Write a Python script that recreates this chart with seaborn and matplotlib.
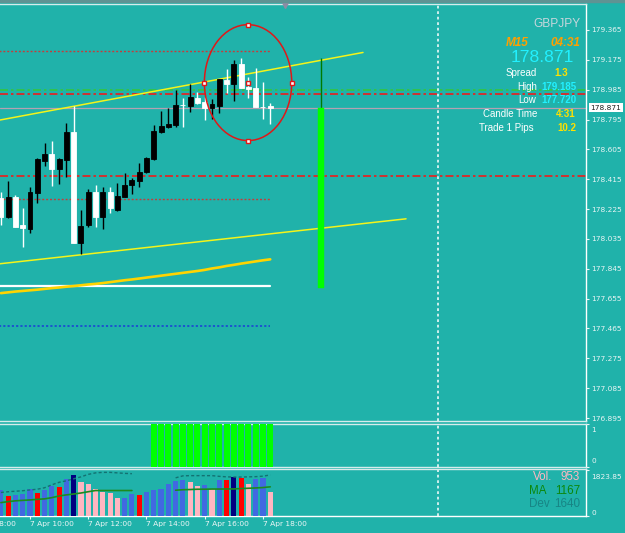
import matplotlib
matplotlib.use("Agg")
import numpy as np
import pandas as pd
import matplotlib.pyplot as plt
import matplotlib.transforms as mtrans
from matplotlib.patches import Ellipse, Rectangle
import seaborn as sns

# ---------------- data (GBPJPY, M15, 7 Apr 09:00 .. 18:15) ----------------
opens = [178.294, 178.173, 178.304, 178.124, 178.098, 178.329, 178.533, 178.576, 178.478, 178.537,
         178.716, 178.011, 178.124, 178.334, 178.173, 178.334, 178.219, 178.304, 178.380, 178.406,
         178.463, 178.542, 178.714, 178.748, 178.760, 178.888, 178.881, 178.932, 178.909, 178.870,
         178.881, 179.047, 179.021, 179.149, 179.000, 178.996, 178.877, 178.881]
highs = [178.336, 178.404, 178.315, 178.234, 178.368, 178.548, 178.644, 178.658, 178.548, 178.771,
         178.883, 178.219, 178.351, 178.376, 178.368, 178.364, 178.389, 178.453, 178.421, 178.516,
         178.558, 178.760, 178.849, 178.867, 178.983, 178.930, 179.019, 178.968, 178.940, 178.926,
         179.053, 179.117, 179.174, 179.185, 179.068, 179.123, 179.034, 178.902]
lows = [178.124, 178.170, 178.110, 177.986, 178.075, 178.262, 178.499, 178.374, 178.387, 178.427,
        178.008, 177.939, 178.113, 178.113, 178.096, 178.202, 178.215, 178.300, 178.321, 178.364,
        178.457, 178.537, 178.707, 178.743, 178.749, 178.749, 178.841, 178.892, 178.792, 178.798,
        178.839, 178.962, 178.915, 178.993, 178.934, 178.874, 178.797, 178.767]
closes = [178.177, 178.304, 178.113, 178.103, 178.336, 178.542, 178.576, 178.478, 178.542, 178.716,
          178.011, 178.119, 178.334, 178.173, 178.334, 178.230, 178.310, 178.378, 178.410, 178.463,
          178.552, 178.720, 178.754, 178.767, 178.888, 178.885, 178.939, 178.898, 178.870, 178.894,
          179.051, 179.021, 179.149, 178.996, 178.991, 178.877, 178.876, 178.871]
price_ma = [177.690, 177.695, 177.700, 177.704, 177.708, 177.712, 177.717, 177.722, 177.726, 177.731,
            177.735, 177.740, 177.745, 177.749, 177.754, 177.760, 177.766, 177.772, 177.777, 177.783,
            177.789, 177.795, 177.801, 177.807, 177.813, 177.819, 177.825, 177.831, 177.838, 177.847,
            177.854, 177.863, 177.870, 177.878, 177.885, 177.892, 177.899, 177.905]

volumes = [1031, 805, 833, 872, 1097, 925, 1031, 1190, 1163, 1467, 1626, 1348, 1269, 1071, 952,
           912, 727, 740, 872, 846, 952, 1031, 1071, 1269, 1388, 1428, 1348, 1190, 1229, 1071,
           1428, 1428, 1560, 1520, 1269, 1493, 1520, 953]
volume_class = list("BRBBBRBBRBNPPPPPPBBRBBBBBBPPBPBRNRPBBP")
nan = np.nan
volume_ma = [535, 575, 607, 626, 642, 666, 686, 734, 801, 845, 880, 920, 971, 1019, 1019, 1019,
             1019, 1019, 1019, nan, nan, nan, nan, nan, 1031, 1051, 1059, 1071, 1071, 1078, 1078,
             1082, 1082, 1098, 1110, 1122, 1138, 1167]
volume_dev = [940, 971, 991, 1011, 1043, 1071, 1130, 1249, 1348, 1408, 1487, 1566, 1665, 1725, 1745,
              1745, 1725, 1705, 1693, nan, nan, nan, nan, nan, 1527, 1606, 1614, 1614, 1614, 1614,
              1586, 1566, 1558, 1558, 1566, 1574, 1594, 1640]
signal = [0] * 21 + [1] * 17

price_ticks = [179.365, 179.175, 178.985, 178.795, 178.605, 178.415, 178.225, 178.035,
               177.845, 177.655, 177.465, 177.275, 177.085, 176.895]
time_tick_bars = [-4, 4, 12, 20, 28, 36]
time_tick_labels = ["7 Apr 08:00", "7 Apr 10:00", "7 Apr 12:00", "7 Apr 14:00",
                    "7 Apr 16:00", "7 Apr 18:00"]

bid = 178.871
day_high = 179.185
day_low = 177.720
day_bar = 44
dotted_levels = [179.231, 178.291]
red_levels = [178.956, 178.434]
green_level = 178.985
white_level = 177.735
blue_level = 177.483
trend_upper = ([-0.12, 49.74], [178.792, 179.222])
trend_lower = ([-0.12, 55.65], [177.877, 178.163])
ellipse_center = (33.95, 179.030)
ellipse_size = (12.0, 0.738)
day_separator = 60
vol_top = 1823.85

symbol = "GBPJPY"
timeframe = "M15"
countdown = "04:31"
spread = "1.3"
candle_time = "4:31"
trade_pips = "10.2"
vol_ma_last = 1167
vol_dev_last = 1640

# ---------------- style ----------------
BG = "#20b2aa"
sns.set_style("dark", rc={"axes.facecolor": BG, "figure.facecolor": BG})
plt.rcParams['font.family'] = ['DejaVu Sans']

W, H, DPI = 625, 533, 100
fig = plt.figure(figsize=(W / DPI, H / DPI), dpi=DPI, facecolor=BG)
AXR = 586
X0, X1 = -0.121, 80.37

def add_px_axes(top, bottom):
    a = fig.add_axes([0, 1 - bottom / H, AXR / W, (bottom - top) / H])
    a.set_facecolor(BG)
    a.set_xlim(X0, X1)
    a.grid(False)
    a.spines["left"].set_visible(False)
    for s in ["top", "bottom"]:
        a.spines[s].set_color("#d6ecec")
        a.spines[s].set_linewidth(1.0)
    a.spines["right"].set_color("white")
    a.spines["right"].set_linewidth(1.0)
    a.yaxis.tick_right()
    a.tick_params(axis="y", colors="#e8f4f4", labelsize=5.3, length=2.2, width=0.8,
                  pad=1.4, direction="out", right=True, left=False)
    a.set_xticks([])
    return a

def shift_label(lbl, dy_px):
    lbl.set_transform(lbl.get_transform() +
                      mtrans.ScaledTranslation(0, -dy_px / DPI, fig.dpi_scale_trans))

def ftext(x, y, s, **kw):
    fig.text(x / W, 1 - y / H, s, **kw)

bars = np.arange(len(opens))
o = np.array(opens); c = np.array(closes)
bull = c > o
cols = np.where(bull, "black", "white")

# ---------------- main price panel ----------------
ax = add_px_axes(4, 421)
ax.set_ylim(176.8760, 179.5305)
ax.set_yticks(price_ticks)
ax.set_yticklabels([f"{t:.3f}" for t in price_ticks])

ax.axvline(day_separator, color="white", lw=1.1, dashes=(1.8, 1.8), zorder=1)

for lv in red_levels:
    ax.axhline(lv, color="#ff1010", lw=1.1, dashes=(5.2, 2.0, 1.6, 2.0), zorder=2)
ax.axhline(green_level, color="#35c835", lw=1.1, dashes=(5.2, 2.0, 1.6, 2.0), zorder=2)
ax.axhline(bid, color="#b4a2b2", lw=0.9, zorder=2)
for lv in dotted_levels:
    ax.plot([X0 - 5, bars[-1]], [lv, lv], color="#c83a3a", lw=1.0, dashes=(1.4, 1.4), zorder=2)
ax.plot([X0 - 5, bars[-1]], [blue_level, blue_level], color="#1a3ad8", lw=1.1,
        dashes=(1.4, 1.4), zorder=2)
ax.plot([X0 - 5, bars[-1]], [white_level, white_level], color="white", lw=1.6, zorder=2)

ax.plot(*trend_upper, color="#f4f41a", lw=1.1, zorder=3)
ax.plot(*trend_lower, color="#f4f41a", lw=1.1, zorder=3)
sns.lineplot(x=bars, y=price_ma, ax=ax, color="#ffd400", lw=1.9, estimator=None,
             sort=False, legend=False, zorder=3)

# daily range bar
ax.vlines(day_bar, bid, day_high, color="#007a00", lw=1.0, zorder=3)
ax.bar(day_bar, bid - day_low, bottom=day_low, width=0.82, color="#00ff00",
       edgecolor="#00ff00", lw=0.3, zorder=3)

# candles
ax.vlines(bars, lows, highs, colors=cols, lw=1.0, zorder=4)
ax.bar(bars, np.abs(c - o), bottom=np.minimum(o, c), width=0.68, color=cols,
       edgecolor=cols, lw=0.6, zorder=5)

# ellipse
cx, cy = ellipse_center
ew, eh = ellipse_size
ax.add_patch(Ellipse((cx, cy), ew, eh, fill=False, ec="#e01818", lw=1.1, zorder=6))
ax.plot([cx, cx, cx - ew / 2, cx + ew / 2, cx], [cy + eh / 2, cy - eh / 2, cy, cy, cy],
        ls="none", marker="s", ms=3.4, mfc="white", mec="#e01818", mew=1.0, zorder=7)

# chart shift marker
ax.plot([285 / AXR], [0.998], transform=ax.transAxes, marker="v", ms=5, color="#8c8ca4",
        clip_on=False, zorder=8)

# bid label on axis
ax.annotate(f"{bid:.3f}", xy=(1.0, bid), xycoords=mtrans.blended_transform_factory(ax.transAxes, ax.transData),
            xytext=(3.2, 0), textcoords="offset points", ha="left", va="center", fontsize=5.3,
            color="#202020", bbox=dict(boxstyle="square,pad=0.18", fc="white", ec="none"),
            annotation_clip=False, zorder=9)

# ---------------- signal panel ----------------
ax2 = add_px_axes(424, 467)
ax2.set_ylim(0, 1)
ax2.bar(bars, signal, width=0.82, color="#00ff00", edgecolor="none", zorder=3)
ax2.axvline(day_separator, color="white", lw=1.1, dashes=(1.8, 1.8), zorder=1)
ax2.set_yticks([0, 1])
ax2.set_yticklabels(["0", "1"])
lbls = ax2.get_yticklabels()
lbls[0].set_va("bottom"); lbls[1].set_va("top")
shift_label(lbls[0], -3)
shift_label(lbls[1], 3)

# ---------------- volume panel ----------------
ax3 = add_px_axes(469, 516)
ax3.set_ylim(0, 1880)
palette = {"B": "#4169e1", "R": "#ff0000", "P": "#ffb6c1", "N": "#000080"}
ax3.bar(bars, volumes, width=0.7, color=[palette[k] for k in volume_class],
        edgecolor="none", zorder=3)
ax3.plot(bars, volume_ma, color="#1e8a1e", lw=1.2, zorder=4)
ax3.plot(bars, volume_dev, color="#137272", lw=1.0, dashes=(2.2, 1.6), zorder=4)
ax3.axvline(day_separator, color="white", lw=1.1, dashes=(1.8, 1.8), zorder=1)
ax3.spines["bottom"].set_color("white")
ax3.set_yticks([0, vol_top])
ax3.set_yticklabels(["0", f"{vol_top:.2f}"])
lbls = ax3.get_yticklabels()
lbls[0].set_va("bottom"); lbls[1].set_va("top")
shift_label(lbls[1], 4)

ax3.set_xticks(time_tick_bars[1:])
ax3.set_xticklabels(time_tick_labels[1:], ha="left")
ax3.tick_params(axis="x", bottom=True, colors="#eef6f6", labelsize=5.4, length=2.2,
                width=0.8, pad=1.6, direction="out")
ax3.annotate(time_tick_labels[0], xy=(time_tick_bars[0], 0),
             xycoords=mtrans.blended_transform_factory(ax3.transData, ax3.transAxes),
             xytext=(0, -3.8), textcoords="offset points", ha="left", va="top",
             fontsize=5.4, color="#eef6f6", annotation_clip=False)

# ---------------- top band ----------------
fig.patches.append(Rectangle((0, 1 - 2 / H), 1, 2 / H, transform=fig.transFigure,
                             color="#5f9393", zorder=0))

# ---------------- info texts ----------------
LS = "Liberation Sans"
ftext(580, 24, symbol, ha="right", va="center", fontsize=8.6, color="#c6d6dc", family=LS)
ftext(506, 42.7, timeframe, ha="left", va="center", fontsize=8.5, color="#ffa000",
      family=LS, weight="bold", style="italic")
ftext(580, 42.7, countdown, ha="right", va="center", fontsize=8.5, color="#ffa000",
      family=LS, weight="bold", style="italic")
ftext(574, 58, f"{bid:.3f}", ha="right", va="center", fontsize=12.6, color="#22f0ff", family=LS)
rows = [("Spread", 537, 73.3, spread, 568, "#ffe000"),
        ("High", 537, 86.7, f"{day_high:.3f}", 576, "#22f0ff"),
        ("Low", 536, 100.3, f"{day_low:.3f}", 576, "#22f0ff"),
        ("Candle Time", 537, 114.3, candle_time, 576, "#ffe000"),
        ("Trade 1 Pips", 534, 127.7, trade_pips, 576, "#ffe000")]
for name, xn, y, val, xv, vc in rows:
    ftext(xn, y, name, ha="right", va="center", fontsize=7, color="white", family=LS)
    ftext(xv, y, val, ha="right", va="center", fontsize=7, color=vc, family=LS, weight="bold")

ftext(533, 477.3, "Vol.", ha="left", va="center", fontsize=8.4, color="#ffb6c1", family=LS)
ftext(580, 477.3, f"{volumes[-1]}", ha="right", va="center", fontsize=8.4, color="#ffb6c1", family=LS)
ftext(529, 490.7, "MA", ha="left", va="center", fontsize=8.4, color="#0c880c", family=LS)
ftext(580, 490.7, f"{vol_ma_last}", ha="right", va="center", fontsize=8.4, color="#0c880c", family=LS)
ftext(529, 503.7, "Dev", ha="left", va="center", fontsize=8.4, color="#178585", family=LS)
ftext(580, 503.7, f"{vol_dev_last}", ha="right", va="center", fontsize=8.4, color="#178585", family=LS)

fig.savefig("out.png", dpi=DPI, facecolor=BG)
